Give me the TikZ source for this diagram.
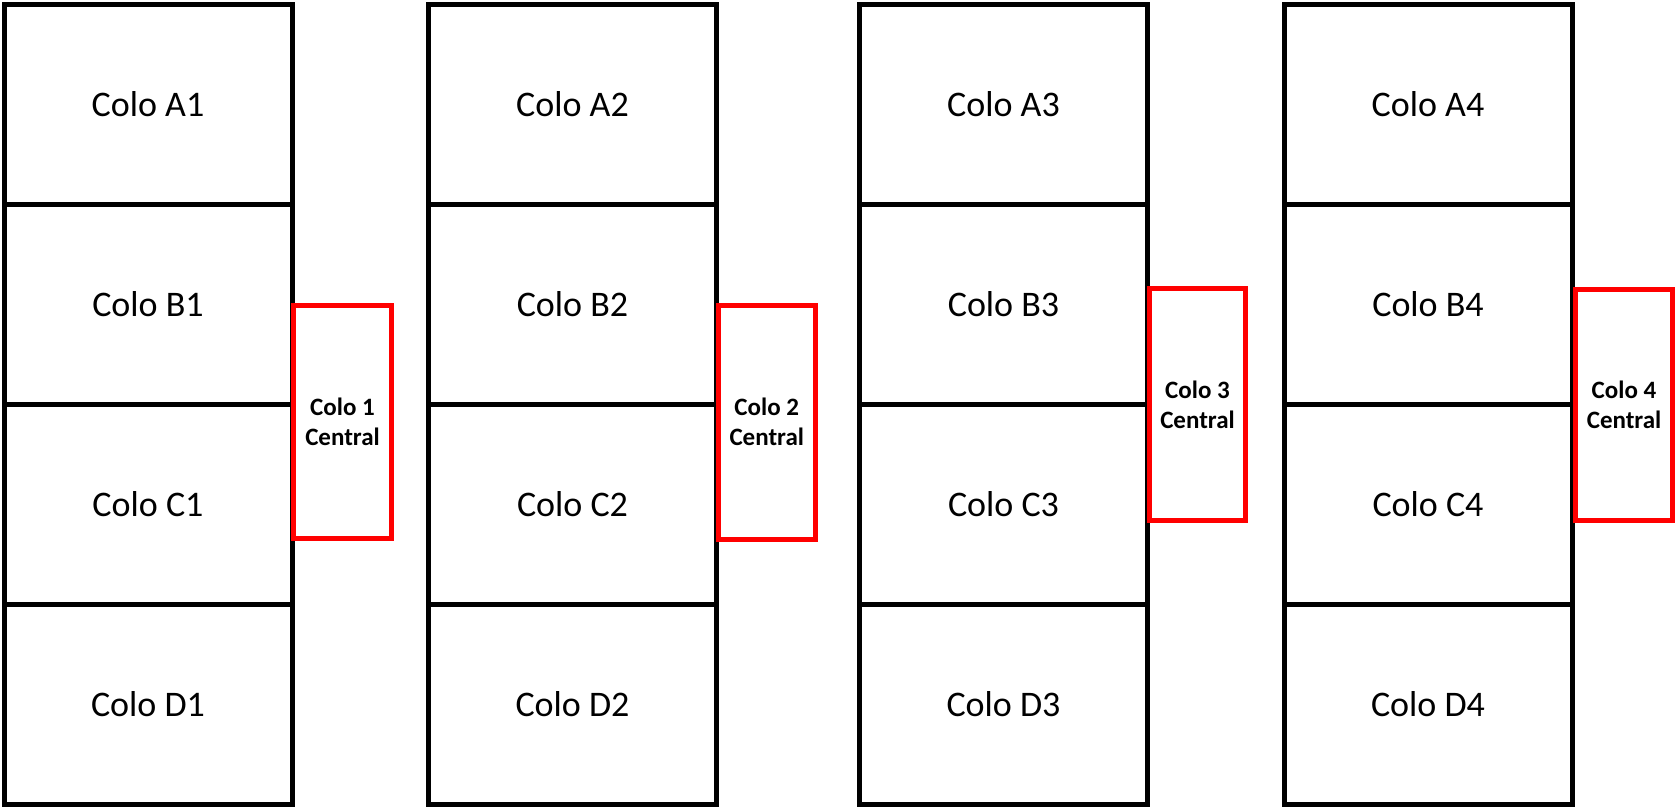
\documentclass[tikz,border=0pt]{standalone}
\usepackage{fontspec}
\setmainfont{Carlito}
\begin{document}
\begin{tikzpicture}[x=1pt,y=-1pt,
  cell/.style={draw=black,line width=5pt,rectangle,minimum width=288pt,minimum height=200pt,inner sep=0pt,font=\fontsize{36}{43}\selectfont},
  central/.style={draw=red,line width=5pt,rectangle,inner sep=0pt,align=center,font=\bfseries\fontsize{25}{30}\selectfont}]
\useasboundingbox (0,0) rectangle (1675,808);
\foreach \n/\xl in {1/4,2/428.5,3/859.5,4/1284}{
  \foreach \r [count=\i from 0] in {A,B,C,D}{
    \node[cell] (\r\n) at (\xl+144,104.5+200*\i) {Colo \r\n};
  }
}
\node[central,minimum width=98pt,minimum height=233.5pt] (K1) at (342.5,421.75) {Colo 1\\Central};
\node[central,minimum width=97.5pt,minimum height=234pt] (K2) at (766.75,422) {Colo 2\\Central};
\node[central,minimum width=96pt,minimum height=232pt] (K3) at (1197.5,404.5) {Colo 3\\Central};
\node[central,minimum width=97pt,minimum height=231.5pt] (K4) at (1624,404.75) {Colo 4\\Central};
\end{tikzpicture}
\end{document}
